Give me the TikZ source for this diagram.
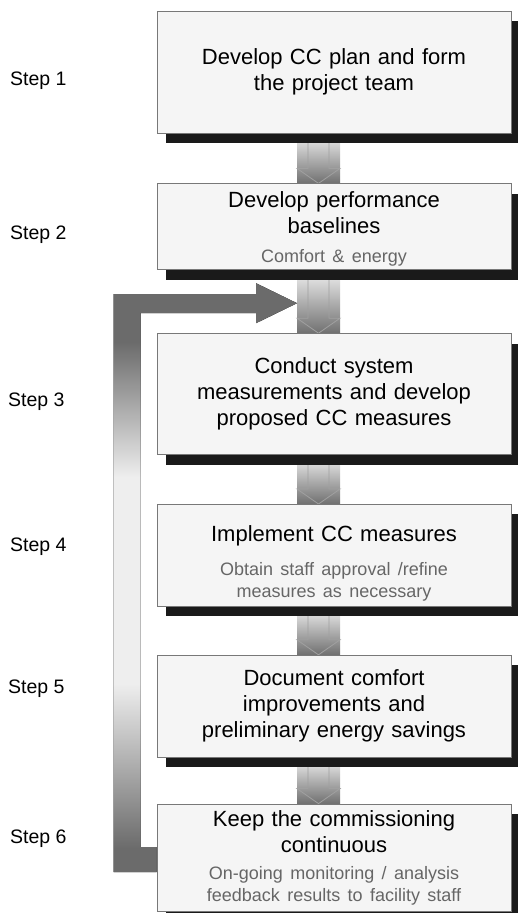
\documentclass[tikz,border=0pt]{standalone}
\usepackage{fontspec}
\setmainfont{Liberation Sans}
\usetikzlibrary{positioning,calc,shadows,backgrounds}
\definecolor{BoxFill}{RGB}{245,245,245}
\definecolor{BoxLine}{RGB}{120,120,120}
\definecolor{ShadowColor}{RGB}{26,26,26}
\definecolor{SubText}{RGB}{102,102,102}
\definecolor{ConnLight}{RGB}{240,240,240}
\definecolor{ConnDark}{RGB}{112,112,112}
\definecolor{ConnLine}{RGB}{160,160,160}
\definecolor{LoopDark}{RGB}{107,107,107}
\definecolor{LoopLight}{RGB}{238,238,238}
\pgfdeclareverticalshading{loopshade}{100bp}{color(0bp)=(LoopDark); color(27bp)=(LoopDark); color(41bp)=(LoopLight); color(58.5bp)=(LoopLight); color(70bp)=(LoopDark); color(100bp)=(LoopDark)}
\newcommand{\mainsize}{\fontsize{22}{26}\selectfont}
\newcommand{\subsize}{\fontsize{18}{22}\selectfont\color{SubText}}

\begin{document}
\begin{tikzpicture}[x=1pt, y=-1pt, font=\mainsize,
    stepbox/.style={draw=BoxLine, line width=0.8pt, fill=BoxFill, minimum width=354pt, text width=354pt, inner sep=0pt, align=center,
      drop shadow={shadow xshift=9pt, shadow yshift=-10pt, fill=ShadowColor, opacity=1}},
    steplabel/.style={anchor=west, inner sep=0pt, font=\fontsize{19.5}{23}\selectfont},
    connfill/.style={top color=ConnLight, bottom color=ConnDark},
    connline/.style={draw=ConnLine, line width=0.8pt}]
      \useasboundingbox (0,0) rectangle (517,913);
      \node[stepbox, minimum height=122pt] (b1) at (334,72) {Develop CC plan and form\\the project team};
      \node[stepbox, minimum height=86pt, below=50pt of b1] (b2) {\rule{0pt}{20pt}Develop performance\\baselines\\[7pt]\subsize Comfort \& energy\par};
      \node[stepbox, minimum height=121pt, below=63pt of b2] (b3) {Conduct system\\measurements and develop\\proposed CC measures};
      \node[stepbox, minimum height=102pt, below=49pt of b3] (b4) {\rule{0pt}{32pt}Implement CC measures\\[12pt]\subsize Obtain staff approval /refine\\measures as necessary\par};
      \node[stepbox, minimum height=102pt, below=48pt of b4] (b5) {Document comfort\\improvements and\\preliminary energy savings};
      \node[stepbox, minimum height=107pt, below=46pt of b5] (b6) {Keep the commissioning\\continuous\\[5pt]\subsize On-going monitoring / analysis\\feedback results to facility staff\par};
      \node[steplabel] (s1) at (10,81) {Step 1};
      \node[steplabel] (s2) at (10,235) {Step 2};
      \node[steplabel] (s3) at (8,402) {Step 3};
      \node[steplabel] (s4) at (10,547) {Step 4};
      \node[steplabel] (s5) at (8,689) {Step 5};
      \node[steplabel] (s6) at (10,839) {Step 6};
      % block arrows between the steps
      \begin{scope}[on background layer]
        \foreach \a/\b in {b1/b2,b2/b3,b3/b4,b4/b5,b5/b6}{
          \fill[connfill] ($(\a.south)+(-37,0)$) rectangle ($(\b.north)+(6,0)$);
          \draw[connline] ($(\a.south)+(-26,0)$) -- ($(\b.north)+(-26,-15)$) -- ($(\b.north)+(-37,-15)$) -- ($(\b.north)+(-15.5,0)$) -- ($(\b.north)+(6,-15)$) -- ($(\b.north)+(-5,-15)$) -- ($(\a.south)+(-5,0)$);
        }
      \end{scope}
      % feedback loop from step 6 back to step 3
      \coordinate (fbtip) at ($(b3.north)+(-37,-30)$);
      \coordinate (fbfoot) at (b6.west);
      \fill[shading=loopshade] ($(fbfoot)+(0,-10.5)$) -- ++(-16,0) |- ($(fbtip)+(-41,10)$) -- ++(0,10) -- (fbtip) -- ++(-41,-20) -- ++(0,11) -| ($(fbfoot)+(-43,14.5)$) -- ($(fbfoot)+(0,14.5)$) -- cycle;
    \end{tikzpicture}
\end{document}
